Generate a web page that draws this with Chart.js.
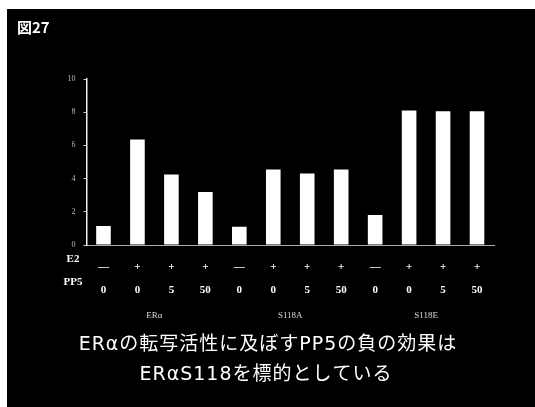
<!DOCTYPE html>
<html>
<head>
<meta charset="utf-8">
<script src="https://cdn.jsdelivr.net/npm/chart.js@4"></script>
<style>
  html, body { margin: 0; padding: 0; background: #fff; }
  #wrap { position: relative; width: 535px; height: 407px; }
</style>
</head>
<body>
<div id="wrap"><canvas id="chartCanvas" width="535" height="407"></canvas></div>
<script>
(function() {

  // data
  var e2Row = ['—', '+', '+', '+', '—', '+', '+', '+', '—', '+', '+', '+'];
  var pp5Row = ['0', '0', '5', '50', '0', '0', '5', '50', '0', '0', '5', '50'];
  var activity = [1.15, 6.35, 4.25, 3.2, 1.1, 4.55, 4.3, 4.55, 1.8, 8.1, 8.05, 8.05];
  var groupNames = ['ERα', 'S118A', 'S118E'];
  var groupSize = 4;
  var yTicks = [0, 2, 4, 6, 8, 10];

  var labels = e2Row.map(function(e, i) { return [e, pp5Row[i]]; });

  var rowLineHeight = 23;
  var rowPad = 3;

  var framePlugin = {
    id: 'frame',
    beforeDraw: function(chart) {
      var ctx = chart.ctx;
      ctx.save();
      ctx.fillStyle = '#ffffff';
      ctx.fillRect(0, 0, chart.width, chart.height);
      ctx.fillStyle = '#000000';
      ctx.fillRect(7, 9, chart.width - 7, chart.height - 9);
      ctx.restore();
    },
    afterDraw: function(chart) {
      var ctx = chart.ctx;
      var xs = chart.scales.x;
      ctx.save();
      ctx.fillStyle = '#ffffff';
      ctx.textBaseline = 'middle';

      // figure number
      ctx.font = 'bold 15px "Noto Sans CJK JP"';
      ctx.textAlign = 'left';
      ctx.fillText('図27', 17, 27);

      // row titles for the tick rows
      var row1 = xs.top + rowPad + rowLineHeight / 2;
      ctx.font = 'bold 11px "Liberation Serif"';
      ctx.textAlign = 'center';
      ctx.fillText('E2', 73, row1);
      ctx.fillText('PP5', 73, row1 + rowLineHeight);

      // group names under each block of bars
      ctx.font = '9px "Liberation Serif"';
      ctx.fillStyle = '#dddddd';
      groupNames.forEach(function(name, g) {
        var a = xs.getPixelForValue(g * groupSize);
        var b = xs.getPixelForValue(g * groupSize + groupSize - 1);
        ctx.fillText(name, (a + b) / 2, row1 + rowLineHeight * 2 + 10);
      });

      // caption
      ctx.fillStyle = '#ffffff';
      ctx.font = '19px "DejaVu Sans", "Noto Sans CJK JP"';
      if ('letterSpacing' in ctx) ctx.letterSpacing = '1px';
      ctx.fillText('ERαの転写活性に及ぼすPP5の負の効果は', 268, 345);
      ctx.fillText('ERαS118を標的としている', 266, 375);
      ctx.restore();
    }
  };

  var ctx = document.getElementById('chartCanvas').getContext('2d');
  new Chart(ctx, {
    type: 'bar',
    data: {
      labels: labels,
      datasets: [{
        data: activity,
        backgroundColor: '#ffffff',
        borderWidth: 0,
        barPercentage: 0.43,
        categoryPercentage: 1.0
      }]
    },
    options: {
      responsive: false,
      animation: false,
      layout: { padding: { top: 79, right: 41, left: 0, bottom: 0 } },
      plugins: {
        legend: { display: false },
        tooltip: { enabled: false }
      },
      scales: {
        x: {
          afterFit: function(scale) { scale.height = 162; },
          grid: { display: false },
          border: { display: true, color: '#aaaaaa', width: 1, dash: [2, 2] },
          ticks: {
            color: '#ffffff',
            padding: rowPad,
            maxRotation: 0,
            autoSkip: false,
            font: { family: 'Liberation Serif', weight: 'bold', size: 11, lineHeight: rowLineHeight / 11 }
          }
        },
        y: {
          min: 0,
          max: 10,
          afterFit: function(scale) { scale.width = 86.5; },
          afterBuildTicks: function(scale) {
            scale.ticks = yTicks.map(function(v) { return { value: v }; });
          },
          grid: { display: true, drawOnChartArea: false, drawTicks: true, tickLength: 3, color: '#cccccc' },
          border: { display: true, color: '#eeeeee', width: 1.5 },
          ticks: {
            color: '#bbbbbb',
            padding: 8,
            font: { family: 'Liberation Serif', size: 8 }
          }
        }
      }
    },
    plugins: [framePlugin]
  });

})();
</script>
</body>
</html>
